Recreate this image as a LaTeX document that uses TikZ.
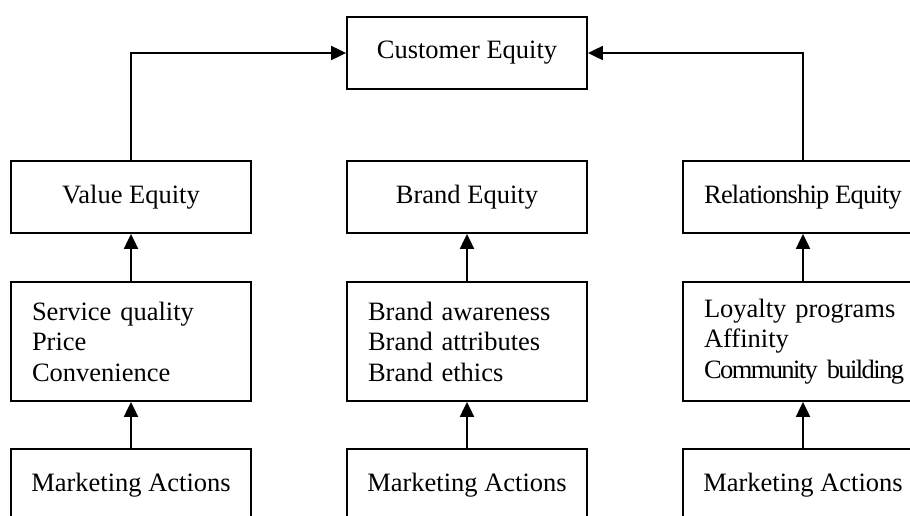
\documentclass[tikz,border=0pt]{standalone}
\usepackage{fontspec}
\setmainfont{Liberation Serif}
\newfontfamily\tightfont[LetterSpace=-3]{Liberation Serif}
\newfontfamily\tighterfont[LetterSpace=-6]{Liberation Serif}
\usetikzlibrary{arrows.meta}

\begin{document}
\begin{tikzpicture}[x=1pt,y=-1pt,
  box/.style={draw,line width=1.8pt,minimum width=240pt,minimum height=72pt,inner sep=0pt,font=\fontsize{26.5}{30.5}\selectfont},
  listbox/.style={box,minimum height=119pt,inner xsep=21pt,text width=198pt,align=left},
  link/.style={line width=2pt,-{Triangle[length=15pt,width=14pt]}}]
\useasboundingbox (0,0) rectangle (910,515);
\clip (0,0) rectangle (910,515);
% top
\node[box] (ce) at (467,53) {Customer Equity};
% equity drivers
\node[box] (ve) at (131,197) {Value Equity};
\node[box] (be) at (467,197) {Brand Equity};
\node[box] (re) at (803,197) {\tightfont Relationship Equity};
% sub-drivers
\node[listbox] (vl) at (131,341.5) {Service quality\\Price\\Convenience};
\node[listbox] (bl) at (467,341.5) {Brand awareness\\Brand attributes\\Brand ethics};
\node[listbox] (rl) at (803,341.5) {Loyalty programs\\Affinity\\\mbox{\tighterfont Community building}};
% actions (cut off at the bottom)
\node[box] (va) at (131,485) {Marketing Actions};
\node[box] (ba) at (467,485) {Marketing Actions};
\node[box] (ra) at (803,485) {Marketing Actions};
\draw[link] (va) -- (vl);
\draw[link] (ba) -- (bl);
\draw[link] (ra) -- (rl);
\draw[link] (vl) -- (ve);
\draw[link] (bl) -- (be);
\draw[link] (rl) -- (re);
\draw[link] (ve.north) |- (ce.west);
\draw[link] (re.north) |- (ce.east);
\end{tikzpicture}
\end{document}
